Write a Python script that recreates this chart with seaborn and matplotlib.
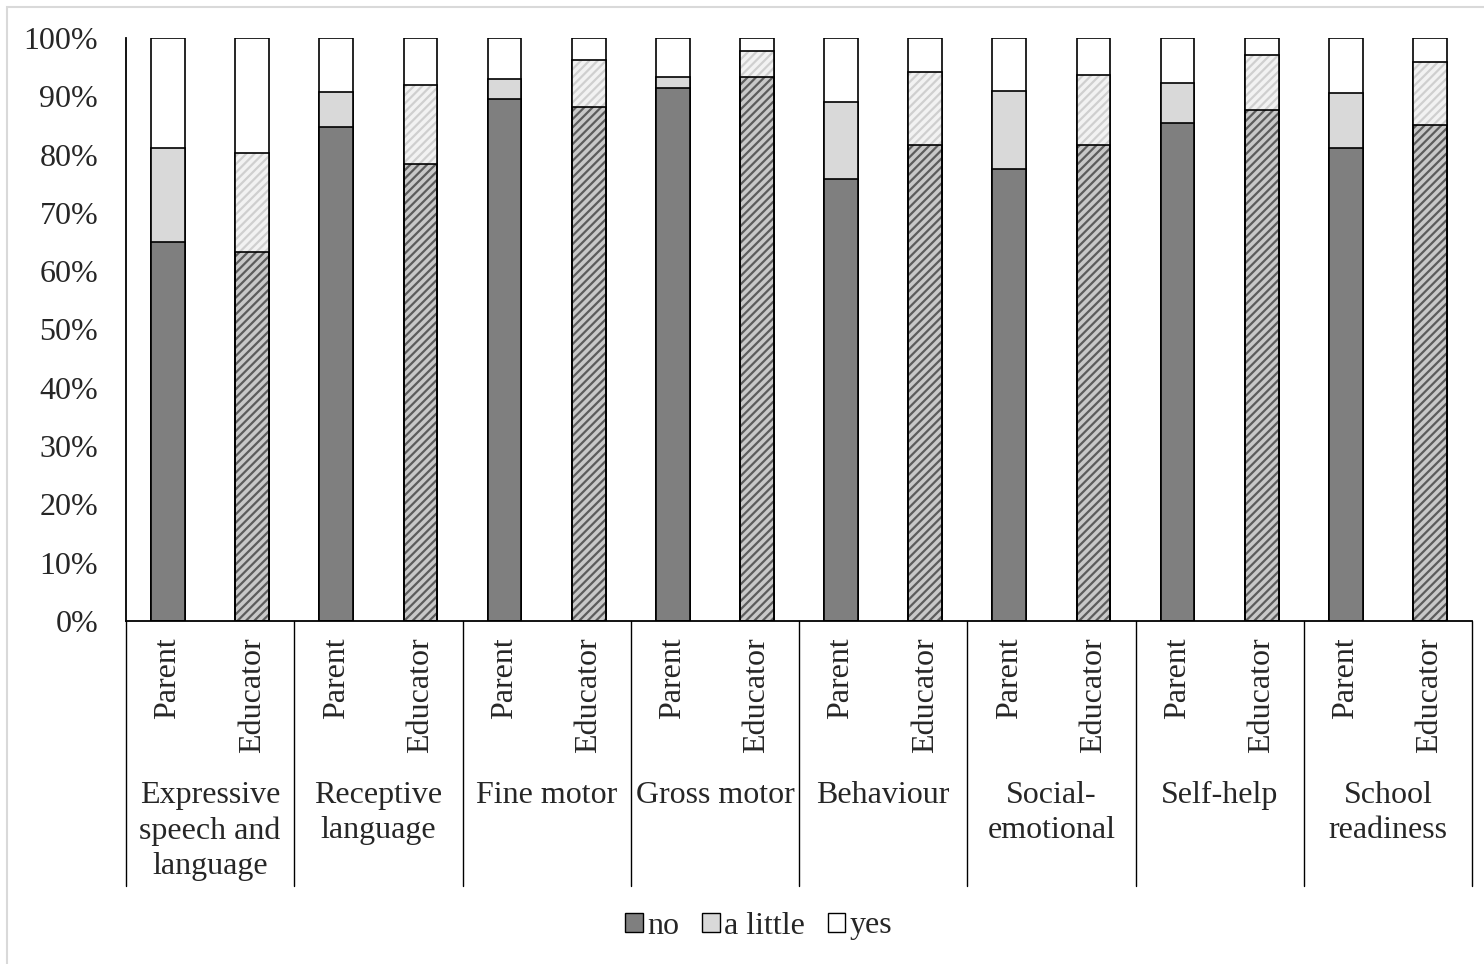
import matplotlib
matplotlib.use("Agg")
import matplotlib.pyplot as plt
import seaborn as sns
import pandas as pd
from matplotlib.patches import Patch, Rectangle
from matplotlib.lines import Line2D

# ---------------- data ----------------
groups = ["Expressive\nspeech and\nlanguage", "Receptive\nlanguage", "Fine motor",
          "Gross motor", "Behaviour", "Social-\nemotional", "Self-help", "School\nreadiness"]
raters = ["Parent", "Educator"]

parent_no = [65.0, 84.7, 89.6, 91.4, 75.8, 77.5, 85.4, 81.1]
parent_little = [16.2, 6.1, 3.4, 1.9, 13.2, 13.4, 6.8, 9.5]
parent_yes = [18.8, 9.2, 7.0, 6.7, 11.0, 9.1, 7.8, 9.4]

educator_no = [63.3, 78.4, 88.2, 93.3, 81.6, 81.7, 87.6, 85.0]
educator_little = [17.0, 13.5, 8.1, 4.5, 12.6, 12.0, 9.4, 10.9]
educator_yes = [19.7, 8.1, 3.7, 2.2, 5.8, 6.3, 3.0, 4.1]

legend_labels = ["no", "a little", "yes"]
y_ticks = [0, 10, 20, 30, 40, 50, 60, 70, 80, 90, 100]

# ---------------- table ----------------
rows = []
for gi, g in enumerate(groups):
    for r, no, lt, ys in (("Parent", parent_no[gi], parent_little[gi], parent_yes[gi]),
                          ("Educator", educator_no[gi], educator_little[gi], educator_yes[gi])):
        rows.append({"slot": f"{gi}-{r}", "group": g, "rater": r,
                     "no": no, "little": lt, "yes": ys})
df = pd.DataFrame(rows)
df["cum_no"] = df["no"]
df["cum_little"] = df["no"] + df["little"]
df["cum_yes"] = df["no"] + df["little"] + df["yes"]
order = list(df["slot"])

# ---------------- style ----------------
sns.set_style("white")
plt.rcParams["font.family"] = ["Liberation Serif", "DejaVu Serif"]
plt.rcParams["hatch.linewidth"] = 1.6
FS = 23

fig = plt.figure(figsize=(14.84, 9.64), dpi=100)
ax = fig.add_axes([126 / 1484, 1 - 621 / 964, (1472 - 126) / 1484, (621 - 38) / 964])

layers = [
    ("cum_yes", "#ffffff", None, None),
    ("cum_little", "#d9d9d9", "#f2f2f2", "#cfcfcf"),
    ("cum_no", "#7f7f7f", "#c8c8c8", "#5c5c5c"),
]
edu_patches = []
for col, fc, hfc, hc in layers:
    n0 = len(ax.patches)
    sns.barplot(data=df, x="slot", y=col, order=order, color=fc, saturation=1,
                width=0.4, edgecolor="black", linewidth=1.2, errorbar=None, ax=ax)
    new = ax.patches[n0:]
    for p, r in zip(new, df["rater"]):
        p.set_facecolor(fc)
        if r == "Educator" and hfc is not None:
            p.set_facecolor(hfc)
            p.set_hatch("////")
            p.set_edgecolor(hc)
            p.set_linewidth(0)
            edu_patches.append(p)

for p in edu_patches:
    ax.add_patch(Rectangle(p.get_xy(), p.get_width(), p.get_height(), fill=False,
                           edgecolor="black", linewidth=1.2, zorder=p.get_zorder() + 0.1))

ax.set_xlim(-0.5, len(order) - 0.5)
ax.set_ylim(0, 100)
ax.set_yticks(y_ticks)
ax.set_yticklabels([f"{v}%" for v in y_ticks], fontsize=FS)
ax.tick_params(axis="y", length=0, pad=20)
ax.set_xticks(range(len(order)))
ax.set_xticklabels(list(df["rater"]), rotation=90, fontsize=FS, va="top", ha="center")
ax.tick_params(axis="x", length=0, pad=12)
ax.set_xlabel("")
ax.set_ylabel("")
for s in ["top", "right"]:
    ax.spines[s].set_visible(False)
ax.spines["left"].set_color("black")
ax.spines["bottom"].set_color("black")
ax.spines["left"].set_linewidth(1.3)
ax.spines["bottom"].set_linewidth(1.3)

# group separators and labels
trans = ax.get_xaxis_transform()
depth = -(886 - 621) / 583
for k in range(len(groups) + 1):
    x = -0.5 + 2 * k
    ax.add_line(Line2D([x, x], [0, depth], transform=trans, color="black",
                       linewidth=1.0, clip_on=False))
for gi, g in enumerate(groups):
    ax.text(2 * gi + 0.5, -(781 - 621) / 583, g, transform=trans, ha="center", va="top",
            fontsize=FS, linespacing=1.27)

# legend
handles = [Patch(facecolor=c, edgecolor="black", linewidth=1.0)
           for c in ["#7f7f7f", "#d9d9d9", "#ffffff"]]
fig.legend(handles, legend_labels, loc="center", bbox_to_anchor=(759 / 1484, 1 - 926 / 964),
           ncol=3, frameon=False, fontsize=FS, handlelength=0.55, handleheight=0.55,
           handletextpad=0.15, columnspacing=0.7)

# chart-area border
fig.add_artist(Rectangle((6.5 / 1484, -0.01), 1.02, 1 - 6.5 / 964 + 0.01,
                         transform=fig.transFigure, fill=False, edgecolor="#d9d9d9",
                         linewidth=1.5, clip_on=False))

fig.savefig("out.png", dpi=100)
